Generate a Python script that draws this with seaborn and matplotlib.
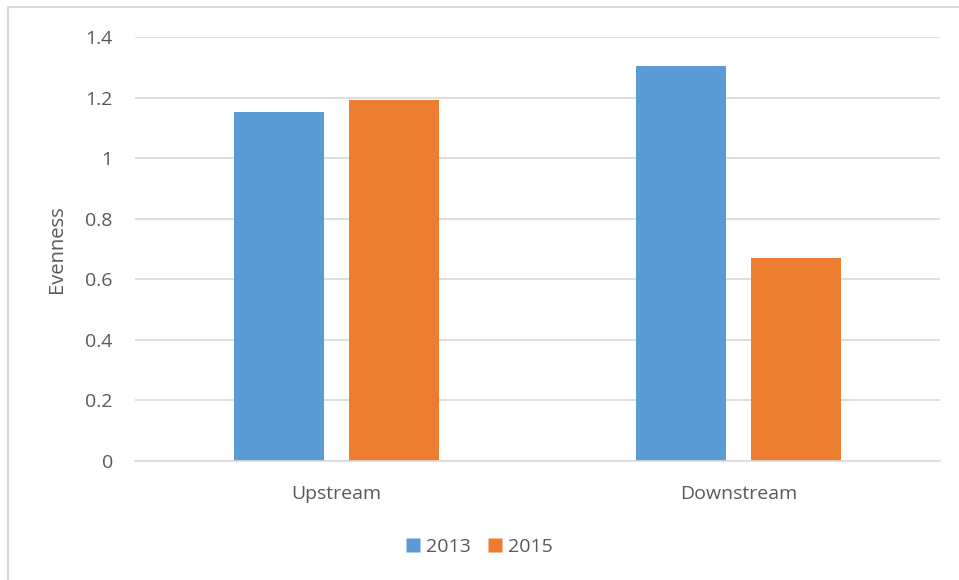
import matplotlib
matplotlib.use("Agg")
import matplotlib.pyplot as plt
import seaborn as sns
import pandas as pd
from matplotlib.lines import Line2D

sites = ["Upstream", "Downstream"]
years = ["2013", "2015"]
values_2013 = [1.151, 1.305]
values_2015 = [1.193, 0.671]
yticks = [0, 0.2, 0.4, 0.6, 0.8, 1, 1.2, 1.4]
ytick_labels = ["0", "0.2", "0.4", "0.6", "0.8", "1", "1.2", "1.4"]

df = pd.DataFrame({
    "Site": sites * 2,
    "Year": [years[0]] * 2 + [years[1]] * 2,
    "Evenness": values_2013 + values_2015,
})

sns.set_theme(style="white")
plt.rcParams["font.family"] = ["Open Sans", "DejaVu Sans"]
text_color = "#595959"
grid_color = "#d9d9d9"

fig = plt.figure(figsize=(9.59, 5.80), dpi=100)
ax = fig.add_axes([135/959, 1 - 461/580, (940 - 135)/959, (461 - 37)/580])

palette = {"2013": "#5b9bd5", "2015": "#ed7d31"}
sns.barplot(data=df, x="Site", y="Evenness", hue="Year", order=sites,
            hue_order=years, palette=palette, width=0.571, gap=0.217,
            saturation=1, ax=ax, legend=False, edgecolor="none")

ax.set_ylim(0, 1.4)
ax.set_xlim(-0.5, 1.5)
ax.set_yticks(yticks)
ax.set_yticklabels(ytick_labels)
ax.yaxis.grid(True, color=grid_color, linewidth=1.2)
ax.set_axisbelow(True)
for side in ["top", "right", "left"]:
    ax.spines[side].set_visible(False)
ax.spines["bottom"].set_color(grid_color)
ax.spines["bottom"].set_linewidth(1.2)
ax.tick_params(axis="both", length=0, labelsize=14, colors=text_color)
ax.tick_params(axis="y", pad=16)
ax.tick_params(axis="x", pad=17)
ax.set_xlabel("")
ax.set_ylabel("Evenness", fontsize=14.5, color=text_color, labelpad=13)

handles = [Line2D([0], [0], marker="s", linestyle="none", markersize=10,
                  markerfacecolor=palette[y], markeredgecolor="none") for y in years]
fig.legend(handles, years, loc="center", bbox_to_anchor=(0.5, 1 - 547/580),
           ncol=2, frameon=False, fontsize=14, labelcolor=text_color,
           handletextpad=0.3, columnspacing=0.9, handlelength=0.7)

# chart-area border (left and top visible)
fig.add_artist(Line2D([8/959, 8/959], [0, 1 - 7/580], transform=fig.transFigure,
                      color=grid_color, linewidth=1.5))
fig.add_artist(Line2D([8/959, 1], [1 - 7/580, 1 - 7/580], transform=fig.transFigure,
                      color=grid_color, linewidth=1.5))

fig.savefig("out.png", dpi=100)
